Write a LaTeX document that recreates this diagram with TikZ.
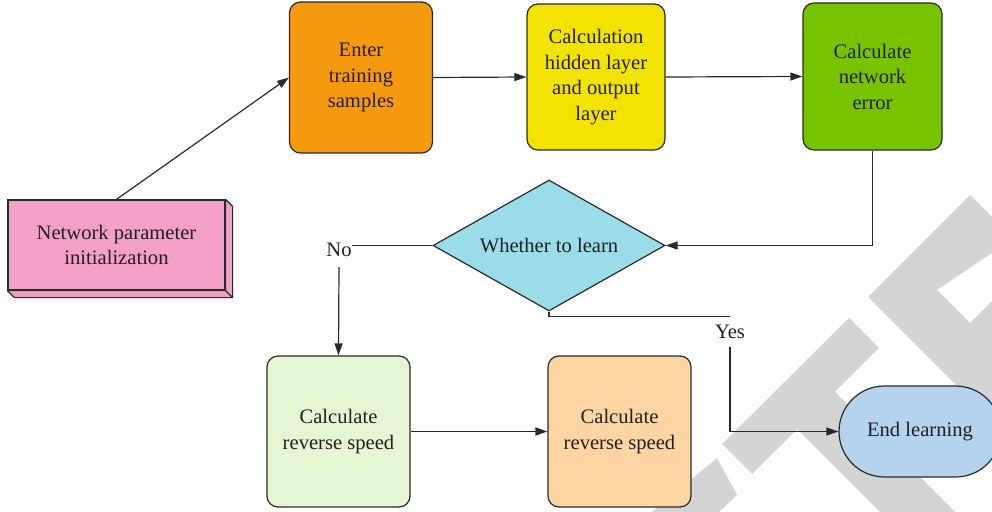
\documentclass[tikz,border=0pt]{standalone}
\usepackage{fontspec}
\setmainfont{Liberation Serif}
\usetikzlibrary{shapes.geometric,arrows.meta,calc}

\definecolor{linec}{HTML}{2A2A2A}
\definecolor{textc}{HTML}{231F20}
\definecolor{pinkc}{HTML}{F2A0C8}
\definecolor{orangec}{HTML}{F5990E}
\definecolor{yellowc}{HTML}{F3E300}
\definecolor{greenc}{HTML}{78C300}
\definecolor{cyanc}{HTML}{9ADDE9}
\definecolor{palegreenc}{HTML}{E4F6D2}
\definecolor{peachc}{HTML}{FDD5A3}
\definecolor{bluec}{HTML}{B5D3EC}
\definecolor{markc}{HTML}{D4D4D4}

\begin{document}
\begin{tikzpicture}[x=1pt,y=-1pt,
  txt/.style={text=textc, font=\fontsize{20.6}{25.5}\selectfont, align=center},
  box/.style={txt, draw=linec, line width=1.2pt, rounded corners=11pt, inner sep=0pt},
  wire/.style={draw=linec, line width=1.2pt},
  arr/.style={wire, -{Triangle[length=12pt,width=8pt]}},
  tag/.style={txt, inner sep=0pt}]

\useasboundingbox (0,0) rectangle (992,511);
\begin{scope}
\clip (0,0) rectangle (992,511);

% background logo bands
\fill[markc] (970,195) -- (1010,235) -- (992,253) -- (937,290) -- (970,323) -- (1010,283)
  -- (1010,439) -- (868,297) -- cycle;
\fill[markc] (849,318) -- (879,348) -- (752,474) -- (722,444) -- cycle;
\fill[markc] (834.5,391.5) -- (973,530) -- (898,530) -- (797,429) -- cycle;
\fill[markc] (717,458) -- (737,495) -- (700,530) -- (630,530) -- cycle;

% process boxes
\node[box, rounded corners=0pt, fill=pinkc, minimum width=217pt, minimum height=90pt]
  (init) at (116.5,245) {Network parameter\\initialization};
\filldraw[fill=pinkc, draw=linec, line width=1.2pt, line join=round]
  (init.north east) -- ($(init.north east)+(7,7)$) -- ($(init.south east)+(7,7)$)
  -- ($(init.south west)+(7,7)$) -- (init.south west) -- (init.south east) -- cycle;
\draw[wire] (init.south east) -- ($(init.south east)+(7,7)$);

\node[box, fill=orangec, minimum width=143pt, minimum height=151pt]
  (enter) at (361,77.5) {Enter\\training\\samples};
\node[box, fill=yellowc, minimum width=138pt, minimum height=146pt]
  (calc) at (596,77) {Calculation\\hidden layer\\and output\\layer};
\node[box, fill=greenc, minimum width=139pt, minimum height=147pt]
  (err) at (872.5,76.5) {Calculate\\network\\error};

\node[txt, draw=linec, line width=1.2pt, fill=cyanc, diamond, shape aspect=1.77,
  inner sep=0pt, minimum width=232pt, minimum height=131pt]
  (dec) at (549,245.5) {Whether to learn};

\node[box, fill=palegreenc, minimum width=143pt, minimum height=151pt]
  (revA) at (338.5,431.5) {Calculate\\reverse speed};
\node[box, fill=peachc, minimum width=143pt, minimum height=151pt]
  (revB) at (619.5,431.5) {Calculate\\reverse speed};
\node[box, rounded corners=45.5pt, fill=bluec, minimum width=162pt, minimum height=91pt]
  (finish) at (920,431.5) {End learning};

% branch labels
\node[tag, minimum height=34pt] (no) at (339,250) {No};
\node[tag, minimum height=30pt] (yes) at (730,332) {Yes};

% connectors
\draw[arr] (init.north) -- (enter.west);
\draw[arr] (enter.east) -- (calc.west);
\draw[arr] (calc.east) -- (err.west);
\draw[arr] (err.south) |- (dec.east);
\draw[wire] (dec.west) -- (dec.west -| no.east);
\draw[arr] (no.south) -- (revA.north);
\draw[wire] (dec.south) |- (yes.north);
\draw[arr] (yes.south) |- (finish.west);
\draw[arr] (revA.east) -- (revB.west);
\end{scope}
\end{tikzpicture}
\end{document}
